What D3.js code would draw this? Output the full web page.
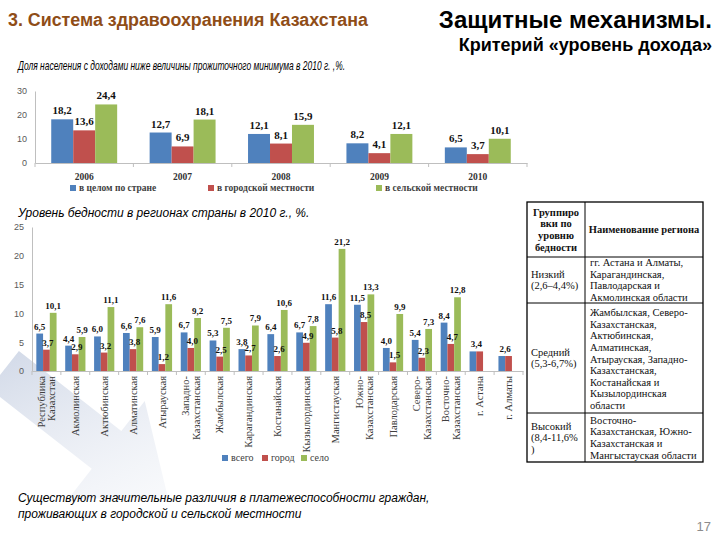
<!DOCTYPE html>
<html><head><meta charset="utf-8">
<script src="https://cdn.jsdelivr.net/npm/d3@7"></script>
<style>
html,body{margin:0;padding:0;background:#fff;}
svg{display:block;}
</style></head>
<body>
<svg id="c" width="720" height="540"></svg>
<script>
// ---------- DATA ----------
const years = ["2006","2007","2008","2009","2010"];
const total1 = [18.2, 12.7, 12.1, 8.2, 6.5];
const urban1 = [13.6, 6.9, 8.1, 4.1, 3.7];
const rural1 = [24.4, 18.1, 15.9, 12.1, 10.1];
const series1Names = ["в целом по стране", "в городской местности", "в сельской местности"];
const yTicks1 = [0, 10, 20, 30];

const regions = [
  ["Республика","Казахстан"], ["Акмолинская"], ["Актюбинская"], ["Алматинская"], ["Атырауская"],
  ["Западно-","Казахстанская"], ["Жамбылская"], ["Карагандинская"], ["Костанайская"], ["Кызылординская"],
  ["Мангистауская"], ["Южно-","Казахстанская"], ["Павлодарская"], ["Северо-","Казахстанская"],
  ["Восточно-","Казахстанская"], ["г. Астана"], ["г. Алматы"]
];
const total2 = [6.5, 4.4, 6.0, 6.6, 5.9, 6.7, 5.3, 3.8, 6.4, 6.7, 11.6, 11.5, 4.0, 5.4, 8.4, 3.4, 2.6];
const urban2 = [3.7, 2.9, 3.2, 3.8, 1.2, 4.0, 2.5, 2.7, 2.6, 4.9, 5.8, 8.5, 1.5, 2.3, 4.7, 3.4, 2.6];
const rural2 = [10.1, 5.9, 11.1, 7.6, 11.6, 9.2, 7.5, 7.9, 10.6, 7.8, 21.2, 13.3, 9.9, 7.3, 12.8, null, null];
const series2Names = ["всего", "город", "село"];
const yTicks2 = [0, 5, 10, 15, 20, 25];

const tableHeader = [["Группиро","вки по","уровню","бедности"], ["Наименование региона"]];
const tableGroups = [["Низкий","(2,6–4,4%)"], ["Средний","(5,3-6,7%)"], ["Высокий","(8,4-11,6%",")"]];
const tableRegions = [
  ["гг. Астана и Алматы,","Карагандинская,","Павлодарская и","Акмолинская области"],
  ["Жамбылская, Северо-","Казахстанская,","Актюбинская,","Алматинская,","Атырауская, Западно-","Казахстанская,","Костанайская и","Кызылординская","области"],
  ["Восточно-","Казахстанская, Южно-","Казахстанская и","Мангыстауская области"]
];

const colors = ["#4f81bd", "#c0504d", "#9bbb59"];
const fmt = v => String(v.toFixed(1)).replace(".", ",");

// ---------- DRAW ----------
const svg = d3.select("#c");
const SANS = "'Liberation Sans', Arial, sans-serif";
const SERIF = "'Liberation Serif', 'Times New Roman', serif";

// decorative arrow
const defs = svg.append("defs");
const grad = defs.append("linearGradient").attr("id","ag").attr("x1","0").attr("y1","0").attr("x2","1").attr("y2","0.3");
grad.append("stop").attr("offset","0").attr("stop-color","#c3cde0").attr("stop-opacity",0.8);
grad.append("stop").attr("offset","1").attr("stop-color","#edf0f6").attr("stop-opacity",0.45);
svg.append("path")
  .attr("transform","translate(12,376) rotate(38)")
  .attr("d","M-10,-24 L120,-24 L120,-62 L198,0 L120,62 L120,24 L-10,24 Z")
  .attr("fill","url(#ag)");

// titles
svg.append("text").attr("x",8).attr("y",26).attr("font-family",SANS).attr("font-weight","bold")
  .attr("font-size",17.5).attr("fill","#8f4d17").attr("textLength",360).attr("lengthAdjust","spacingAndGlyphs")
  .text("3. Система здравоохранения Казахстана");
svg.append("text").attr("x",712).attr("y",28).attr("text-anchor","end").attr("font-family",SANS)
  .attr("font-weight","bold").attr("font-size",24).attr("fill","#000").text("Защитные механизмы.");
svg.append("text").attr("x",712).attr("y",51).attr("text-anchor","end").attr("font-family",SANS)
  .attr("font-weight","bold").attr("font-size",18).attr("fill","#000").text("Критерий «уровень дохода»");
svg.append("text").attr("x",18).attr("y",70).attr("font-family",SANS).attr("font-style","italic")
  .attr("font-size",13).attr("fill","#000").attr("textLength",327).attr("lengthAdjust","spacingAndGlyphs")
  .text("Доля населения с доходами ниже величины прожиточного минимума в 2010 г. ,%.");
svg.append("text").attr("x",18).attr("y",217).attr("font-family",SANS).attr("font-style","italic")
  .attr("font-size",12).attr("fill","#000").text("Уровень бедности в регионах страны в 2010 г., %.");
svg.append("text").attr("x",18).attr("y",502).attr("font-family",SANS).attr("font-style","italic")
  .attr("font-size",12).attr("fill","#000").text("Существуют значительные различия в платежеспособности граждан,");
svg.append("text").attr("x",18).attr("y",518).attr("font-family",SANS).attr("font-style","italic")
  .attr("font-size",12).attr("fill","#000").text("проживающих в городской и сельской местности");
svg.append("text").attr("x",711).attr("y",531).attr("text-anchor","end").attr("font-family",SANS)
  .attr("font-size",13).attr("fill","#8c8c8c").text("17");

// ---------- Chart 1 ----------
(function(){
  const x = d3.scaleBand().domain(years).range([35, 527]);
  const y = d3.scaleLinear().domain([0, 30]).range([163, 91]);
  const bw = x.bandwidth();
  const xs = d3.scaleBand().domain([0,1,2]).range([bw*0.165, bw*0.835]);
  const series = [total1, urban1, rural1];
  const g = svg.append("g");
  const ya = g.append("g").attr("transform","translate(35,0)")
    .call(d3.axisLeft(y).tickValues(yTicks1).tickSize(0).tickPadding(8));
  ya.select(".domain").attr("stroke","#bfbfbf");
  ya.selectAll("text").attr("font-family",SANS).attr("font-size",9).attr("fill","#595959");
  const xa = g.append("g").attr("transform","translate(0,163)")
    .call(d3.axisBottom(x).tickSize(0).tickFormat(""));
  xa.select(".domain").attr("stroke","#bfbfbf");
  g.selectAll("line.t1").data(d3.range(years.length+1)).join("line")
    .attr("x1",i=>35+i*bw).attr("x2",i=>35+i*bw).attr("y1",163).attr("y2",167).attr("stroke","#bfbfbf");
  g.selectAll("text.cat").data(years).join("text")
    .attr("x",d=>x(d)+bw/2).attr("y",180).attr("text-anchor","middle")
    .attr("font-family",SERIF).attr("font-weight","bold").attr("font-size",9.5).attr("fill","#333").text(d=>d);
  series.forEach((arr, s) => {
    g.selectAll("rect.s"+s).data(arr).join("rect")
      .attr("x",(d,i)=>x(years[i])+xs(s)).attr("width",xs.bandwidth())
      .attr("y",d=>y(d)).attr("height",d=>y(0)-y(d)).attr("fill",colors[s]);
    g.selectAll("text.v"+s).data(arr).join("text")
      .attr("x",(d,i)=>x(years[i])+xs(s)+xs.bandwidth()/2).attr("y",d=>y(d)-5)
      .attr("text-anchor","middle").attr("font-family",SERIF).attr("font-weight","bold")
      .attr("font-size",11).attr("fill","#111").text(d=>fmt(d));
  });
  const lx = [70, 208, 376];
  series1Names.forEach((n,i)=>{
    g.append("rect").attr("x",lx[i]).attr("y",185).attr("width",6).attr("height",6).attr("fill",colors[i]);
    g.append("text").attr("x",lx[i]+9).attr("y",191).attr("font-family",SERIF).attr("font-weight","bold")
      .attr("font-size",9.5).attr("fill","#404040").text(n);
  });
})();

// ---------- Chart 2 ----------
(function(){
  const names = regions.map(r=>r.join(" "));
  const x = d3.scaleBand().domain(names).range([32, 523]);
  const y = d3.scaleLinear().domain([0, 25]).range([371, 227]);
  const bw = x.bandwidth();
  const xs = d3.scaleBand().domain([0,1,2]).range([bw*0.15, bw*0.85]);
  const series = [total2, urban2, rural2];
  const g = svg.append("g");
  const ya = g.append("g").attr("transform","translate(32,0)")
    .call(d3.axisLeft(y).tickValues(yTicks2).tickSize(0).tickPadding(8));
  ya.select(".domain").attr("stroke","#bfbfbf");
  ya.selectAll("text").attr("font-family",SANS).attr("font-size",9).attr("fill","#595959");
  const xa = g.append("g").attr("transform","translate(0,371)")
    .call(d3.axisBottom(x).tickSize(0).tickFormat(""));
  xa.select(".domain").attr("stroke","#bfbfbf");
  g.selectAll("line.t2").data(d3.range(names.length+1)).join("line")
    .attr("x1",i=>32+i*bw).attr("x2",i=>32+i*bw).attr("y1",371).attr("y2",375).attr("stroke","#bfbfbf");
  series.forEach((arr, s) => {
    const pts = arr.map((v,i)=>({v,i})).filter(d=>d.v!=null);
    g.selectAll("rect.s"+s).data(pts).join("rect")
      .attr("x",d=>x(names[d.i])+xs(s)).attr("width",xs.bandwidth())
      .attr("y",d=>y(d.v)).attr("height",d=>y(0)-y(d.v)).attr("fill",colors[s]);
  });
  series.forEach((arr, s) => {
    const pts = arr.map((v,i)=>({v,i})).filter(d=>d.v!=null && !(s===1 && rural2[d.i]==null));
    g.selectAll("text.v"+s).data(pts).join("text")
      .attr("x",d=>x(names[d.i])+xs(s)+xs.bandwidth()/2 + (rural2[d.i]==null ? xs.bandwidth()/2 : (s===1 ? 1.5 : 0)))
      .attr("y",d=>y(d.v)-4)
      .attr("text-anchor","middle").attr("font-family",SERIF).attr("font-weight","bold")
      .attr("font-size",9).attr("fill","#111").text(d=>fmt(d.v));
  });
  regions.forEach((lines,i)=>{
    const cx = x(names[i]) + bw/2;
    const t = g.append("text").attr("transform",`translate(${cx},376) rotate(-90)`)
      .attr("text-anchor","end").attr("font-family",SERIF).attr("font-size",10.5).attr("fill","#404040");
    lines.forEach((ln,j)=>{
      t.append("tspan").attr("x",0).attr("y",(j-(lines.length-1)/2)*10.5).attr("dy","0.35em").text(ln);
    });
  });
  const lx = [222, 262, 301];
  series2Names.forEach((n,i)=>{
    g.append("rect").attr("x",lx[i]).attr("y",455).attr("width",6).attr("height",6).attr("fill",colors[i]);
    g.append("text").attr("x",lx[i]+9).attr("y",461).attr("font-family",SERIF)
      .attr("font-size",10).attr("fill","#404040").text(n);
  });
})();

// ---------- Table ----------
(function(){
  const L = 527, M = 585, R = 703;
  const rowY = [202, 257, 303, 413, 462];
  const g = svg.append("g").attr("font-family",SERIF).attr("font-size",10.5).attr("fill","#111");
  g.append("rect").attr("x",L).attr("y",rowY[0]).attr("width",R-L).attr("height",rowY[4]-rowY[0])
    .attr("fill","none").attr("stroke","#000").attr("stroke-width",1.3);
  rowY.slice(1,4).forEach(yy=>g.append("line").attr("x1",L).attr("x2",R).attr("y1",yy).attr("y2",yy).attr("stroke","#000"));
  g.append("line").attr("x1",M).attr("x2",M).attr("y1",rowY[0]).attr("y2",rowY[4]).attr("stroke","#000");
  const lh = 11.6;
  function block(lines, x, top, bottom, anchor, bold){
    const cy = (top+bottom)/2;
    lines.forEach((ln,j)=>{
      g.append("text").attr("x",x).attr("y",cy + (j-(lines.length-1)/2)*lh).attr("dy","0.35em")
        .attr("text-anchor",anchor).attr("font-weight",bold?"bold":"normal").text(ln);
    });
  }
  block(tableHeader[0], (L+M)/2, rowY[0], rowY[1], "middle", true);
  block(tableHeader[1], (M+R)/2, rowY[0], rowY[1], "middle", true);
  tableGroups.forEach((lines,i)=>block(lines, L+4, rowY[i+1], rowY[i+2], "start", false));
  tableRegions.forEach((lines,i)=>block(lines, M+5, rowY[i+1]+(i===1?2:0), rowY[i+2], "start", false));
})();
</script>
</body></html>
